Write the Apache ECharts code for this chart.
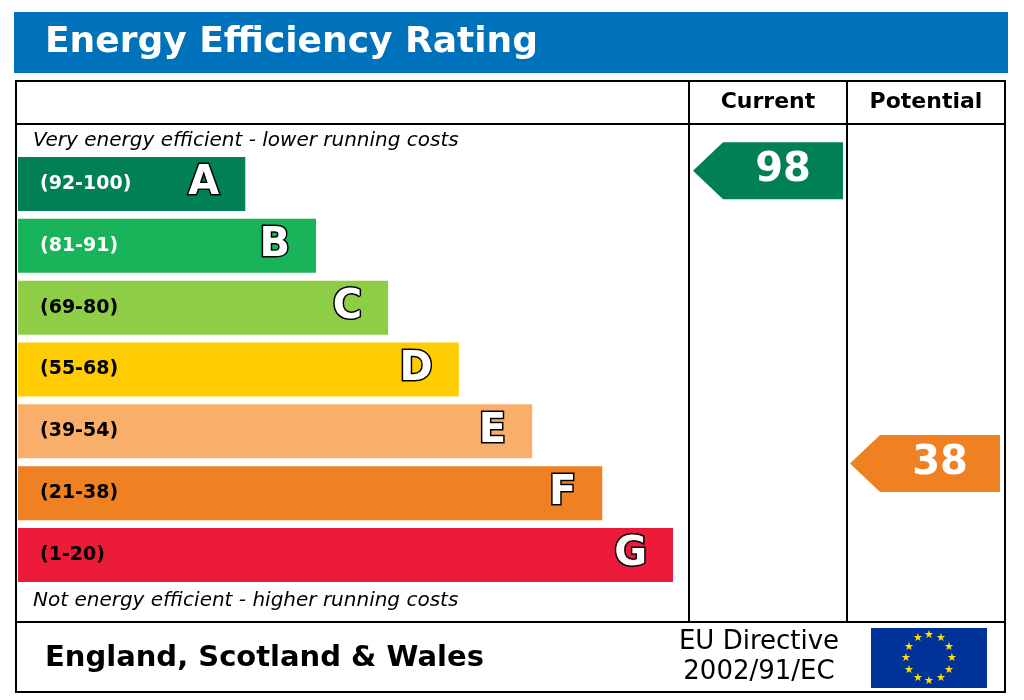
<!DOCTYPE html>
<html>
<head>
<meta charset="utf-8">
<script src="https://cdn.jsdelivr.net/npm/echarts@6/dist/echarts.min.js"></script>
<style>html,body{margin:0;background:#fff}#chart{width:1024px;height:700px}</style>
</head>
<body>
<div id="chart"></div>
<script>
// bands, top (best) to bottom
var bandLetters = ['A', 'B', 'C', 'D', 'E', 'F', 'G'];
var bandRanges = ['(92-100)', '(81-91)', '(69-80)', '(55-68)', '(39-54)', '(21-38)', '(1-20)'];
var bandMins = [92, 81, 69, 55, 39, 21, 1];
var barLengths = [34.7, 45.5, 56.5, 67.3, 78.5, 89.2, 100];
var bandColors = ['#008054', '#19b459', '#8dce46', '#ffcc00', '#f9ae69', '#ef8123', '#ec1b3a'];
var rangeLabelColors = ['#fff', '#fff', '#000', '#000', '#000', '#000', '#000'];
var currentRating = 98;
var potentialRating = 38;

var FONT = 'DejaVu Sans, Verdana, sans-serif';
var ARROW = 'path://M0,28 L30,0 L150,0 L150,56 L30,56 Z';

function bandIndex(rating){
	for (var i = 0; i < bandMins.length; i++) {
		if (rating >= bandMins[i]) return i;
	}
	return bandMins.length - 1;
}

function catAxis(idx){
	return {type:'category', gridIndex:idx, data:bandLetters, inverse:true, show:false};
}
function valAxis(idx, max){
	return {type:'value', gridIndex:idx, min:0, max:max, show:false};
}

function arrowSeries(idx, rating){
	var b = bandIndex(rating);
	return {
		type:'scatter', xAxisIndex:idx, yAxisIndex:idx,
		symbol:ARROW, symbolSize:[150, 57],
		itemStyle:{color:bandColors[b], opacity:1},
		label:{show:true, position:'inside', offset:[15, 0], formatter:String(rating),
			color:'#fff', fontFamily:FONT, fontWeight:'bold', fontSize:40},
		data:[[0.5, rating]]
	};
}

// EU flag stars
var stars = [];
for (var k = 0; k < 12; k++) {
	var a = k / 12 * Math.PI * 2;
	stars.push({type:'text', style:{text:'★', x:929 + 23 * Math.sin(a), y:658 - 23 * Math.cos(a),
		fill:'#ffdd00', fontSize:11, align:'center', verticalAlign:'middle'}});
}

var chart = echarts.init(document.getElementById('chart'));
chart.setOption({
	animation:false,
	grid:[
		{left:18, top:153, width:655, height:433},
		{left:693, top:161, width:150, height:488},
		{left:850, top:161, width:150, height:488}
	],
	xAxis:[valAxis(0, 100), valAxis(1, 1), valAxis(2, 1)],
	yAxis:[catAxis(0), valAxis(1, 100), valAxis(2, 100)],
	series:[
		{
			type:'bar', xAxisIndex:0, yAxisIndex:0, barWidth:54,
			data:barLengths.map(function(v, i){
				return {value:v, itemStyle:{color:bandColors[i]},
					label:{color:rangeLabelColors[i]}};
			}),
			label:{show:true, position:'insideLeft', distance:22,
				formatter:function(p){ return bandRanges[p.dataIndex]; },
				fontFamily:FONT, fontWeight:'bold', fontSize:19}
		},
		{
			type:'bar', xAxisIndex:0, yAxisIndex:0, barWidth:54, barGap:'-100%',
			itemStyle:{color:'rgba(0,0,0,0)'},
			data:barLengths,
			label:{show:true, position:'insideRight', distance:26,
				formatter:function(p){ return bandLetters[p.dataIndex]; },
				color:'#fff', textBorderColor:'#000', textBorderWidth:3,
				fontFamily:FONT, fontWeight:'bold', fontSize:40}
		},
		arrowSeries(1, currentRating),
		arrowSeries(2, potentialRating)
	],
	graphic:[
		{type:'rect', shape:{x:14, y:12, width:994, height:61}, style:{fill:'#0072bc'}},
		{type:'text', style:{text:'Energy Efficiency Rating', x:45, y:43, fill:'#fff',
			font:'bold 36px ' + FONT, verticalAlign:'middle'}},
		{type:'rect', shape:{x:16, y:81, width:989, height:611}, style:{fill:'none', stroke:'#000', lineWidth:2}},
		{type:'line', shape:{x1:16, y1:124, x2:1005, y2:124}, style:{stroke:'#000', lineWidth:2}},
		{type:'line', shape:{x1:16, y1:622, x2:1005, y2:622}, style:{stroke:'#000', lineWidth:2}},
		{type:'line', shape:{x1:689, y1:81, x2:689, y2:622}, style:{stroke:'#000', lineWidth:2}},
		{type:'line', shape:{x1:847, y1:81, x2:847, y2:622}, style:{stroke:'#000', lineWidth:2}},
		{type:'text', style:{text:'Current', x:768, y:102, fill:'#000', font:'bold 22px ' + FONT,
			align:'center', verticalAlign:'middle'}},
		{type:'text', style:{text:'Potential', x:926, y:102, fill:'#000', font:'bold 22px ' + FONT,
			align:'center', verticalAlign:'middle'}},
		{type:'text', style:{text:'Very energy efficient - lower running costs', x:33, y:141, fill:'#000',
			font:'italic 20px ' + FONT, verticalAlign:'middle'}},
		{type:'text', style:{text:'Not energy efficient - higher running costs', x:33, y:601, fill:'#000',
			font:'italic 20px ' + FONT, verticalAlign:'middle'}},
		{type:'text', style:{text:'England, Scotland & Wales', x:45, y:658, fill:'#000',
			font:'bold 29px ' + FONT, verticalAlign:'middle'}},
		{type:'text', style:{text:'EU Directive', x:759, y:642, fill:'#000',
			font:'26px ' + FONT, align:'center', verticalAlign:'middle'}},
		{type:'text', style:{text:'2002/91/EC', x:759, y:672, fill:'#000',
			font:'26px ' + FONT, align:'center', verticalAlign:'middle'}},
		{type:'rect', shape:{x:871, y:628, width:116, height:60}, style:{fill:'#003399'}}
	].concat(stars)
});
</script>
</body>
</html>
